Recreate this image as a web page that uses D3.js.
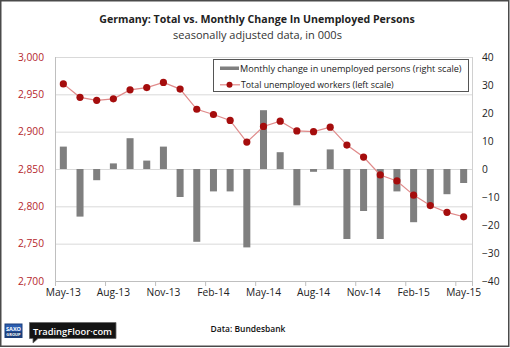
<!DOCTYPE html>
<html><head><meta charset="utf-8">
<script src="https://cdn.jsdelivr.net/npm/d3@7"></script>
<style>html,body{margin:0;padding:0;background:#fff}svg{display:block}text{font-family:"Open Sans",sans-serif}</style>
</head><body><svg id="c" width="510" height="348"></svg>
<script>
const months=["May-13","Jun-13","Jul-13","Aug-13","Sep-13","Oct-13","Nov-13","Dec-13","Jan-14","Feb-14","Mar-14","Apr-14","May-14","Jun-14","Jul-14","Aug-14","Sep-14","Oct-14","Nov-14","Dec-14","Jan-15","Feb-15","Mar-15","Apr-15","May-15"];
const monthlyChange=[8,-17,-4,2,11,3,8,-10,-26,-8,-8,-28,21,6,-13,-1,7,-25,-15,-25,-8,-19,-13,-9,-5];
const totalUnemployed=[2964,2946,2942,2944,2956,2959,2966,2957,2930,2923,2915,2886,2907,2914,2901,2900,2906,2882,2866,2842,2834,2815,2801,2792,2786];
const xTickLabels=["May-13","Aug-13","Nov-13","Feb-14","May-14","Aug-14","Nov-14","Feb-15","May-15"];
const leftTicks=[2700,2750,2800,2850,2900,2950,3000];
const rightTicks=[-40,-30,-20,-10,0,10,20,30,40];

const FONT="Open Sans";
const svg=d3.select("#c");
const L=55,R=472,T=57,B=281;
const x=d3.scaleBand().domain(months).range([L,R]).padding(0);
const yL=d3.scaleLinear().domain([2700,3000]).range([B,T]);
const yR=d3.scaleLinear().domain([-40,40]).range([B,T]);

function fit(sel,target,base){sel.attr("font-size",base);const w=sel.node().getComputedTextLength();sel.attr("font-size",base*target/w);return base*target/w;}

svg.append("rect").attr("x",0.75).attr("y",0.75).attr("width",508).attr("height",345.5).attr("fill","#fff").attr("stroke","#4a4a4a").attr("stroke-width",1.5);

// title
const t1=svg.append("text").attr("x",257).attr("y",22.5).attr("text-anchor","middle").attr("font-weight","bold").attr("fill","#222").text("Germany: Total vs. Monthly Change In Unemployed Persons");
fit(t1,316,12);
const t2=svg.append("text").attr("x",257.5).attr("y",38.5).attr("text-anchor","middle").attr("fill","#333").text("seasonally adjusted data, in 000s");
fit(t2,169,11);

// gridlines
svg.append("g").selectAll("line").data(leftTicks).join("line")
 .attr("x1",L).attr("x2",R).attr("y1",d=>yL(d)+0.5).attr("y2",d=>yL(d)+0.5)
 .attr("stroke","#d9d9d9").attr("stroke-width",1);

// axis font size from reference label width
const probe=svg.append("text").text("May-13");
const axFs=fit(probe,35,11);probe.remove();

// left axis
const gL=svg.append("g").attr("transform",`translate(${L},0)`).call(d3.axisLeft(yL).tickValues(leftTicks).tickFormat(d3.format(",")).tickSize(0).tickPadding(11));
gL.select(".domain").remove();
gL.selectAll("text").attr("fill","#b5272d").attr("font-size",axFs).style("font-family",FONT);
// right axis
const gR=svg.append("g").attr("transform",`translate(${R},0)`).call(d3.axisRight(yR).tickValues(rightTicks).tickSize(0).tickPadding(10));
gR.select(".domain").remove();
gR.selectAll("text").attr("fill","#222").attr("font-size",axFs).style("font-family",FONT);

// bars
const bw=x.bandwidth()*0.42;
svg.append("g").selectAll("rect").data(months).join("rect")
 .attr("x",(d,i)=>x(d)+x.bandwidth()/2-bw/2).attr("width",bw)
 .attr("y",(d,i)=>Math.min(yR(monthlyChange[i]),yR(0)))
 .attr("height",(d,i)=>Math.abs(yR(monthlyChange[i])-yR(0)))
 .attr("fill","#7f7f7f");

// axis lines
svg.append("line").attr("x1",L+0.5).attr("x2",L+0.5).attr("y1",T).attr("y2",B).attr("stroke","#bfbfbf");
svg.append("line").attr("x1",R+0.5).attr("x2",R+0.5).attr("y1",T).attr("y2",B).attr("stroke","#d0d0d0");
// bottom axis
const gX=svg.append("g").attr("transform",`translate(0,${B})`).call(d3.axisBottom(x).tickValues(xTickLabels).tickSize(0).tickPadding(8));
gX.select(".domain").remove();
gX.selectAll("text").attr("fill","#222").attr("font-size",axFs).style("font-family",FONT);
svg.append("line").attr("x1",L).attr("x2",R+1).attr("y1",B+0.5).attr("y2",B+0.5).attr("stroke","#bfbfbf");
svg.append("g").selectAll("line").data(xTickLabels.concat([null])).join("line")
 .attr("x1",d=>(d?x(d):R)+0.5).attr("x2",d=>(d?x(d):R)+0.5).attr("y1",B).attr("y2",B+5)
 .attr("stroke","#bfbfbf");

// line series
const line=d3.line().x((d,i)=>x(months[i])+x.bandwidth()/2).y(d=>yL(d));
svg.append("path").datum(totalUnemployed).attr("d",line).attr("fill","none").attr("stroke","#e08a8a").attr("stroke-width",1.2);
svg.append("g").selectAll("circle").data(totalUnemployed).join("circle")
 .attr("cx",(d,i)=>x(months[i])+x.bandwidth()/2).attr("cy",d=>yL(d)).attr("r",3.6).attr("fill","#a50d0d");

// legend
const lg=svg.append("g");
lg.append("rect").attr("x",213.5).attr("y",59.5).attr("width",255).attr("height",32).attr("fill","#fff").attr("stroke","#555");
lg.append("rect").attr("x",220).attr("y",66.5).attr("width",19).attr("height",3.5).attr("fill","#7f7f7f");
lg.append("line").attr("x1",220).attr("x2",240).attr("y1",84.8).attr("y2",84.8).attr("stroke","#e08a8a").attr("stroke-width",1.2);
lg.append("circle").attr("cx",229.5).attr("cy",84.8).attr("r",3).attr("fill","#a50d0d");
const lt1=lg.append("text").attr("x",240).attr("y",71.5).attr("fill","#222").text("Monthly change in unemployed persons (right scale)");
fit(lt1,222,10);
const lt2=lg.append("text").attr("x",241).attr("y",87.5).attr("fill","#222").text("Total unemployed workers (left scale)");
fit(lt2,153,10);

// source
const src=svg.append("text").attr("x",248).attr("y",332).attr("text-anchor","middle").attr("fill","#111").attr("font-weight","600").text("Data: Bundesbank");
fit(src,75,10);

// logo
const lo=svg.append("g");
lo.append("rect").attr("x",4.5).attr("y",323.5).attr("width",18).attr("height",14.5).attr("fill","#1d3f7a");
lo.append("rect").attr("x",5.5).attr("y",324.5).attr("width",16).attr("height",7).attr("fill","#2a5db0");
lo.append("text").attr("x",13.5).attr("y",330.5).attr("text-anchor","middle").attr("fill","#fff").attr("font-size",5.5).attr("font-weight","bold").text("SAXO");
lo.append("text").attr("x",13.5).attr("y",336.3).attr("text-anchor","middle").attr("fill","#fff").attr("font-size",4).attr("font-weight","bold").text("GROUP");
lo.append("path").attr("d","M29.5,322.5 H116 V338.5 H38 L33,343 L33,338.5 H29.5 Z").attr("fill","#141414").attr("stroke","#666").attr("stroke-width",0.8);
const tf=lo.append("text").attr("x",33).attr("y",334.5).attr("fill","#fff").attr("font-weight","600").text("TradingFloor·com");
fit(tf,79,10.5);
</script></body></html>
